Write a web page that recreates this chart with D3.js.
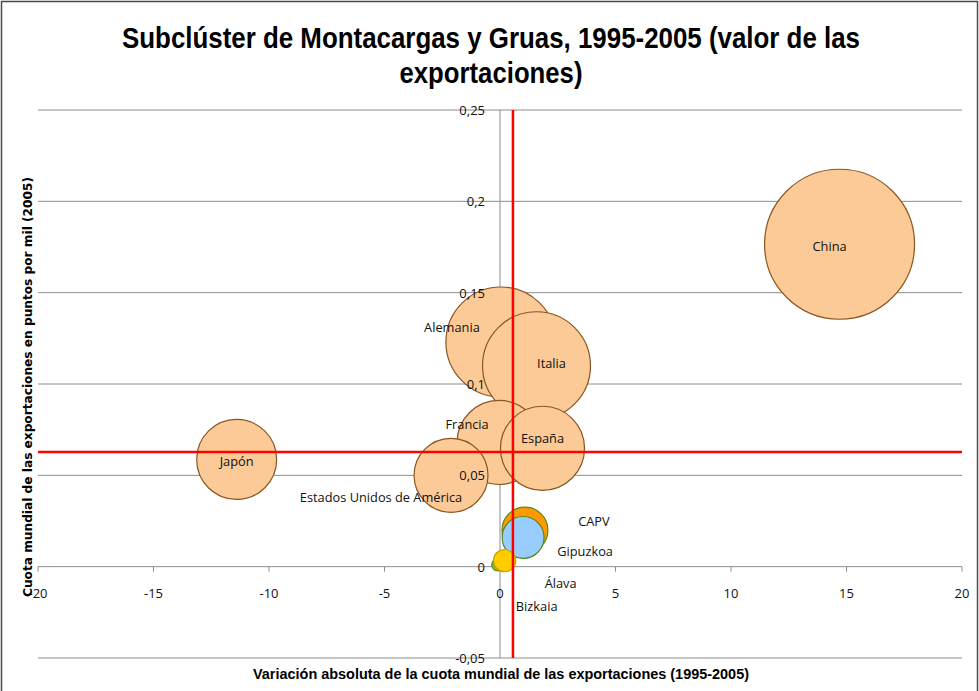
<!DOCTYPE html>
<html>
<head>
<meta charset="utf-8">
<script src="https://cdn.jsdelivr.net/npm/d3@7"></script>
<style>
  body { margin: 0; background: #fff; }
  svg { display: block; }
</style>
</head>
<body>
<div id="chart"></div>
<script>
// data
const names = ["China", "Alemania", "Italia", "Japón", "Francia", "España",
               "Estados Unidos de América", "CAPV", "Gipuzkoa", "Bizkaia", "Álava"];
const variacion = [14.7, 0.04, 1.58, -11.4, -0.04, 1.84, -2.12, 1.08, 1.0, -0.1, 0.2];
const cuota = [0.1765, 0.123, 0.110, 0.0587, 0.068, 0.0648, 0.050, 0.020, 0.016, 0.001, 0.0033];
const tamano = [100, 53.8, 51.8, 28.4, 31.4, 31.4, 24.3, 9.4, 7.8, 0.64, 2.2];
const fills = ["#fcca96", "#fcca96", "#fcca96", "#fcca96", "#fcca96", "#fcca96", "#fcca96",
               "#ff9900", "#99ccff", "#8ab83a", "#ffcc00"];
const strokes = ["#8a5520", "#8a5520", "#8a5520", "#8a5520", "#8a5520", "#8a5520", "#8a5520",
                 "#4e8a1e", "#4e8a1e", "#4e8a1e", "#c8a000"];
// label offsets from bubble centre (px)
const labelDx = [-10, -49, 15, 0, -32, 0, -70, 69, 62, 39, 56];
const labelDy = [2, -15, -3, 2, -18, -10, 22, -9, 14, 41, 22];

const xTicks = [-20, -15, -10, -5, 0, 5, 10, 15, 20];
const yTicks = [-0.05, 0, 0.05, 0.1, 0.15, 0.2, 0.25];
const mediaX = 0.56;   // red reference lines
const mediaY = 0.0628;

const W = 979, H = 691;
const svg = d3.select("#chart").append("svg").attr("width", W).attr("height", H);

const x = d3.scaleLinear().domain([-20, 20]).range([38, 962]);
const y = d3.scaleLinear().domain([-0.05, 0.25]).range([658, 110]);
const r = d3.scaleSqrt().domain([0, 100]).range([0, 75]);

const loc = d3.formatLocale({decimal: ",", thousands: ".", grouping: [3], currency: ["", ""], minus: "-"});
const fmt = loc.format(".2~f");

// border
svg.append("rect").attr("x", 1.5).attr("y", 1.5).attr("width", W - 3).attr("height", H + 20)
  .attr("fill", "none").attr("stroke", "#4a4a4a").attr("stroke-width", 1.5);

// title
const title = svg.append("g").attr("font-family", "'Liberation Sans Narrow', 'Liberation Sans', sans-serif")
  .attr("font-weight", "bold").attr("font-size", 29).attr("fill", "#000").attr("text-anchor", "middle");
title.append("text").attr("x", 491).attr("y", 48).attr("textLength", 738).attr("lengthAdjust", "spacingAndGlyphs")
  .text("Subclúster de Montacargas y Gruas, 1995-2005  (valor de las");
title.append("text").attr("x", 491).attr("y", 83).attr("textLength", 183).attr("lengthAdjust", "spacingAndGlyphs")
  .text("exportaciones)");

// horizontal gridlines
svg.append("g").selectAll("line").data(yTicks).join("line")
  .attr("x1", x(-20)).attr("x2", x(20))
  .attr("y1", d => y(d)).attr("y2", d => y(d))
  .attr("stroke", "#8c8c8c").attr("stroke-width", 1);

// y axis at x = 0
svg.append("line").attr("x1", x(0)).attr("x2", x(0)).attr("y1", y(0.25)).attr("y2", y(-0.05))
  .attr("stroke", "#8c8c8c");

// x axis ticks
svg.append("g").selectAll("line").data(xTicks).join("line")
  .attr("x1", d => x(d)).attr("x2", d => x(d)).attr("y1", y(0)).attr("y2", y(0) + 5)
  .attr("stroke", "#8c8c8c");

// bubbles
const idx = d3.range(names.length);
svg.append("g").selectAll("circle").data(idx).join("circle")
  .attr("cx", i => x(variacion[i])).attr("cy", i => y(cuota[i])).attr("r", i => r(tamano[i]))
  .attr("fill", i => fills[i]).attr("stroke", i => strokes[i]).attr("stroke-width", 1.2);

// tick labels
const tl = svg.append("g").attr("font-family", "'Open Sans', sans-serif").attr("font-size", 13).attr("fill", "#111");
tl.selectAll(".yl").data(yTicks).join("text")
  .attr("x", x(0) - 15).attr("y", d => y(d)).attr("text-anchor", "end").attr("dominant-baseline", "central")
  .text(d => fmt(d));
tl.selectAll(".xl").data(xTicks).join("text")
  .attr("x", d => x(d)).attr("y", y(0) + 26).attr("text-anchor", "middle").attr("dominant-baseline", "central")
  .text(d => fmt(d));

// data labels
svg.append("g").attr("font-family", "'Open Sans', sans-serif").attr("font-size", 12.8).attr("fill", "#111")
  .selectAll("text").data(idx).join("text")
  .attr("x", i => x(variacion[i]) + labelDx[i]).attr("y", i => y(cuota[i]) + labelDy[i])
  .attr("text-anchor", "middle").attr("dominant-baseline", "central")
  .text(i => names[i]);

// red reference lines
svg.append("line").attr("x1", x(mediaX)).attr("x2", x(mediaX)).attr("y1", y(0.25)).attr("y2", y(-0.05))
  .attr("stroke", "#ff0000").attr("stroke-width", 2.5);
svg.append("line").attr("x1", x(-20)).attr("x2", x(20)).attr("y1", y(mediaY)).attr("y2", y(mediaY))
  .attr("stroke", "#ff0000").attr("stroke-width", 2.5);

// axis titles
svg.append("text").attr("x", 501).attr("y", 679).attr("text-anchor", "middle")
  .attr("font-family", "'Liberation Sans Narrow', 'Liberation Sans', sans-serif").attr("font-weight", "bold")
  .attr("font-size", 14).attr("textLength", 496).attr("lengthAdjust", "spacingAndGlyphs")
  .text("Variación absoluta de la cuota mundial de las exportaciones (1995-2005)");
svg.append("text").attr("transform", "translate(32,387) rotate(-90)").attr("text-anchor", "middle")
  .attr("font-family", "'DejaVu Sans', sans-serif").attr("font-weight", "bold")
  .attr("font-size", 11.5).attr("textLength", 420).attr("lengthAdjust", "spacingAndGlyphs")
  .text("Cuota mundial de las  exportaciones en puntos por mil (2005)");
</script>
</body>
</html>
